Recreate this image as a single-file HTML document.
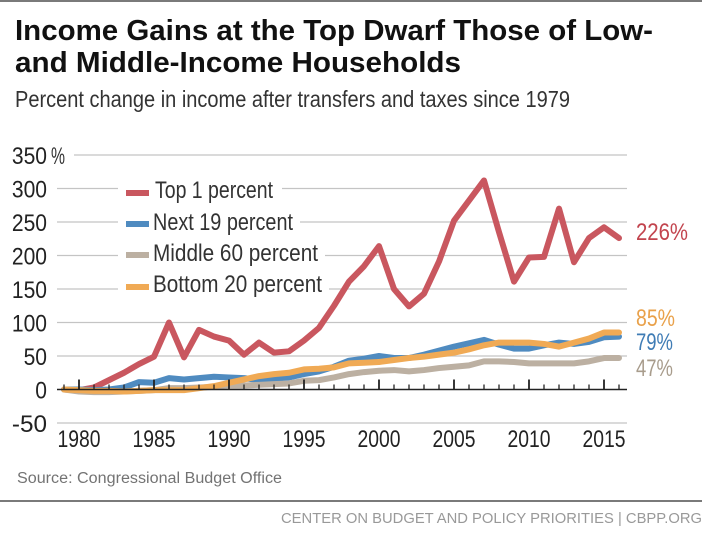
<!DOCTYPE html>
<html>
<head>
<meta charset="utf-8">
<title>Income Gains at the Top</title>
<style>
html,body{margin:0;padding:0;background:#fff;width:702px;height:533px;overflow:hidden}
svg{display:block}
text{font-family:"Liberation Sans",sans-serif}
</style>
</head>
<body>
<svg id="chart" width="702" height="533" viewBox="0 0 702 533" xmlns="http://www.w3.org/2000/svg">
  <rect x="0" y="0" width="702" height="533" fill="#ffffff"/>
  <rect x="0" y="0" width="702" height="2" fill="#7a7a7a"/>
  <text x="15" y="40" font-size="29" font-weight="700" fill="#111" textLength="638" lengthAdjust="spacingAndGlyphs">Income Gains at the Top Dwarf Those of Low-</text>
  <text x="15" y="72" font-size="29" font-weight="700" fill="#111" textLength="446" lengthAdjust="spacingAndGlyphs">and Middle-Income Households</text>
  <text x="15" y="107" font-size="23" fill="#333" textLength="555" lengthAdjust="spacingAndGlyphs">Percent change in income after transfers and taxes since 1979</text>
  <g id="grid"></g>
  <g id="yticks"></g>
  <g id="xticks"></g>
  <g id="lines"></g>
  <g id="axis"></g>
  <g>
    <rect x="126" y="190" width="23" height="6" fill="#c9575f"/>
    <text x="155" y="198" font-size="24" fill="#333" textLength="118" lengthAdjust="spacingAndGlyphs">Top 1 percent</text>
    <rect x="126" y="221" width="23" height="6" fill="#4f8bc0"/>
    <text x="153" y="230" font-size="24" fill="#333" textLength="140" lengthAdjust="spacingAndGlyphs">Next 19 percent</text>
    <rect x="126" y="252" width="23" height="6" fill="#bcb0a2"/>
    <text x="153" y="261" font-size="24" fill="#333" textLength="165" lengthAdjust="spacingAndGlyphs">Middle 60 percent</text>
    <rect x="126" y="284" width="23" height="6" fill="#f0aa55"/>
    <text x="153" y="292" font-size="24" fill="#333" textLength="169" lengthAdjust="spacingAndGlyphs">Bottom 20 percent</text>
  </g>
  <text x="636" y="240" font-size="24" fill="#c2444e" textLength="52" lengthAdjust="spacingAndGlyphs">226%</text>
  <text x="636" y="326" font-size="24" fill="#e9a14a" textLength="39" lengthAdjust="spacingAndGlyphs">85%</text>
  <text x="636" y="350" font-size="24" fill="#3f7cb5" textLength="37" lengthAdjust="spacingAndGlyphs">79%</text>
  <text x="636" y="376" font-size="24" fill="#a89c8c" textLength="37" lengthAdjust="spacingAndGlyphs">47%</text>
  <text x="17" y="483" font-size="15.5" fill="#737373" textLength="265" lengthAdjust="spacingAndGlyphs">Source: Congressional Budget Office</text>
  <rect x="0" y="500" width="702" height="2" fill="#7a7a7a"/>
  <text x="281" y="523" font-size="15" fill="#999" textLength="421" lengthAdjust="spacingAndGlyphs">CENTER ON BUDGET AND POLICY PRIORITIES | CBPP.ORG</text>
</svg>
<script>
var startYear = 1979;
var yTicks = [350, 300, 250, 200, 150, 100, 50, 0, -50];
var xTicks = [1980, 1985, 1990, 1995, 2000, 2005, 2010, 2015];
var top1 = [0, -1, 3, 14, 25, 38, 49, 100, 48, 89, 79, 73, 52, 70, 55, 57, 73, 92, 125, 161, 184, 214, 150, 124, 143, 191, 252, 282, 312, 235, 161, 197, 198, 270, 190, 226, 242, 226];
var next19 = [0, 0, -1, 0, 3, 11, 10, 17, 15, 17, 19, 18, 17, 14, 16, 18, 23, 27, 34, 43, 46, 50, 47, 47, 52, 58, 64, 69, 74, 67, 61, 61, 66, 70, 68, 71, 78, 79];
var middle60 = [0, -3, -4, -4, -3, -2, -1, 2, 2, 3, 4, 6, 6, 7, 8, 9, 13, 14, 18, 23, 26, 28, 29, 27, 29, 32, 34, 36, 42, 42, 41, 39, 39, 39, 39, 42, 47, 47];
var bottom20 = [0, -1, -2, -2, -3, -2, -1, -1, -1, 2, 5, 10, 15, 20, 23, 25, 30, 31, 33, 39, 40, 41, 44, 47, 49, 52, 55, 60, 66, 70, 70, 70, 68, 64, 70, 76, 85, 85];

var NS = 'http://www.w3.org/2000/svg';
function xPos(year) { return 79 + (year - 1980) * 15; }
function yPos(value) { return 389.5 - value * 0.67; }
function make(tag, parentId, attrs) {
  var el = document.createElementNS(NS, tag);
  for (var k in attrs) { el.setAttribute(k, attrs[k]); }
  document.getElementById(parentId).appendChild(el);
  return el;
}

yTicks.forEach(function (v) {
  if (v !== 0) {
    var line = make('line', 'grid', { x1: v === 350 ? 74 : 57, x2: 627, y1: yPos(v), y2: yPos(v), stroke: '#c4c4c4', 'stroke-width': 1.2 });
    
    
  }
  var label = make('text', 'yticks', { x: 47, y: yPos(v) + 9, 'font-size': 24, fill: '#222', 'text-anchor': 'end', textLength: String(v).length * 11.7, lengthAdjust: 'spacingAndGlyphs' });
  label.textContent = String(v);
  
  
});
var pct = make('text', 'yticks', { x: 51, y: yPos(350) + 9, 'font-size': 24, fill: '#333', textLength: 14, lengthAdjust: 'spacingAndGlyphs' });
pct.textContent = '%';



[[118, 282, 300], [118, 300, 250], [118, 325, 200], [118, 329, 150]].forEach(function (g) {
  var mask = make('rect', 'grid', { x: g[0], y: yPos(g[2]) - 3, width: g[1] - g[0], height: 6, fill: '#fff' });
  
  
});

xTicks.forEach(function (yr) {
  var label = make('text', 'xticks', { x: xPos(yr), y: 447, 'font-size': 24, fill: '#222', 'text-anchor': 'middle', textLength: 43, lengthAdjust: 'spacingAndGlyphs' });
  label.textContent = String(yr);
  
  
});

function drawSeries(values, color, name) {
  var pts = values.map(function (v, i) { return xPos(startYear + i) + ',' + yPos(v); }).join(' ');
  var line = make('polyline', 'lines', { points: pts, fill: 'none', stroke: color, 'stroke-width': 6, 'stroke-linejoin': 'round', 'stroke-linecap': 'round' });
  
  
}
drawSeries(top1, '#c9575f', 'line-top-1-percent');
drawSeries(next19, '#4f8bc0', 'line-next-19-percent');
drawSeries(middle60, '#bcb0a2', 'line-middle-60-percent');
drawSeries(bottom20, '#f0aa55', 'line-bottom-20-percent');

var baseline = make('line', 'axis', { x1: 57, x2: 627, y1: yPos(0), y2: yPos(0), stroke: '#222', 'stroke-width': 1.6 });


for (var yr = startYear; yr < startYear + top1.length; yr++) {
  var major = yr % 5 === 0;
  var tick = make('line', 'axis', { x1: xPos(yr), x2: xPos(yr), y1: yPos(0), y2: yPos(0) - (major ? 10 : 5), stroke: '#222', 'stroke-width': major ? 1.8 : 1.3 });
  
  
}
</script>
</body>
</html>
